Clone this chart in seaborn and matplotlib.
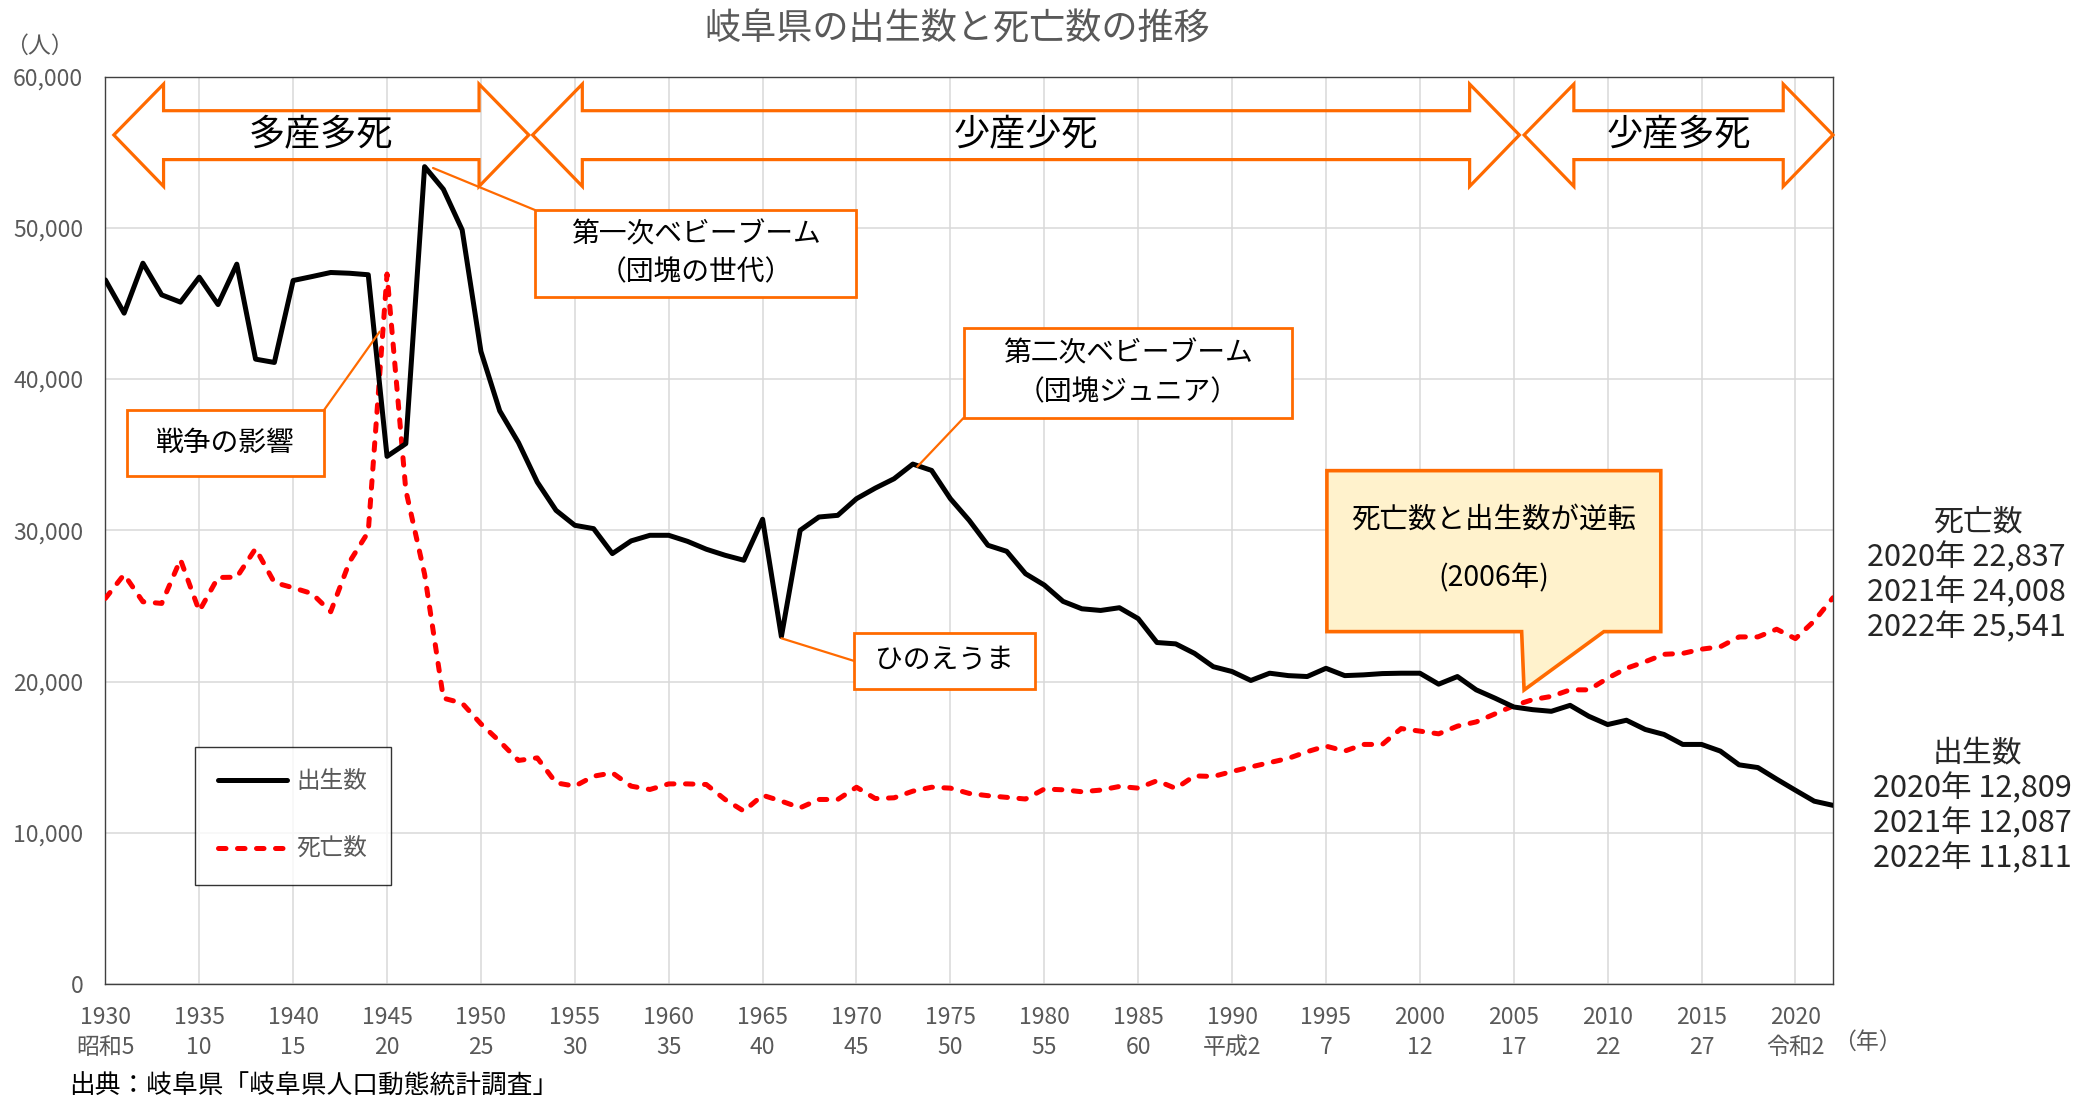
import matplotlib
matplotlib.use("Agg")
import matplotlib.pyplot as plt
from matplotlib.patches import Polygon, Rectangle
import pandas as pd
import seaborn as sns

# 岐阜県の出生数・死亡数（1930〜2022年、グラフから読み取り）
YEARS = list(range(1930, 2023))
BIRTHS = [
    46560, 44360, 47665, 45570, 45090, 46740, 44930, 47600, 41320, 41100,
    46520, 46780, 47050, 47000, 46900, 34890, 35730, 54050, 52555, 49870,
    41830, 37900, 35800, 33190, 31320, 30330, 30110, 28460, 29300, 29670,
    29670, 29270, 28750, 28350, 28020, 30730, 22970, 30000, 30880, 30990,
    32090, 32790, 33410, 34380, 33960, 32090, 30660, 29010, 28610, 27130,
    26380, 25300, 24810, 24700, 24880, 24160, 22580, 22490, 21860, 20980,
    20660, 20070, 20550, 20390, 20330, 20875, 20390, 20440, 20525, 20550,
    20550, 19825, 20330, 19450, 18900, 18315, 18140, 18030, 18425, 17700,
    17155, 17440, 16830, 16500, 15840, 15840, 15400, 14490, 14310, 13545,
    12809, 12087, 11811,
]
DEATHS = [
    25495, 27080, 25275, 25165, 28065, 24660, 26880, 26900, 28790, 26550,
    26200, 25820, 24615, 27910, 29890, 46950, 32650, 27100, 18900, 18570,
    17200, 16040, 14780, 14950, 13300, 13080, 13740, 13960, 13080, 12860,
    13230, 13230, 13190, 12200, 11430, 12480, 12090, 11650, 12200, 12200,
    13010, 12260, 12310, 12750, 13010, 12950, 12600, 12450, 12340, 12230,
    12890, 12840, 12710, 12820, 13060, 12950, 13440, 12930, 13760, 13720,
    14050, 14350, 14640, 14920, 15360, 15730, 15400, 15840, 15840, 16890,
    16720, 16540, 17050, 17330, 17860, 18400, 18800, 19015, 19450, 19450,
    20220, 20875, 21310, 21800, 21860, 22140, 22300, 22950, 22950, 23460,
    22837, 24008, 25541,
]

TICK_YEARS = list(range(1930, 2021, 5))
TICK_WAREKI = ["昭和5", "10", "15", "20", "25", "30", "35", "40", "45", "50",
               "55", "60", "平成2", "7", "12", "17", "22", "27", "令和2"]
Y_TICKS = list(range(0, 60001, 10000))

# 時代区分（ラベル, 開始年, 終了年）
PERIODS = [("多産多死", 1930.45, 1952.55),
           ("少産少死", 1952.75, 2005.3),
           ("少産多死", 2005.55, 2022.0)]

ORANGE = "#FF6A00"
GRAY = "#595959"

sns.set_theme(style="white")
plt.rcParams["font.family"] = ["Noto Sans CJK JP", "DejaVu Sans"]

fig = plt.figure(figsize=(20.82, 11.0), dpi=100)
fig.patch.set_facecolor("white")
ax = fig.add_axes([0.0506, 0.1055, 0.8298, 0.8248])

df = pd.DataFrame({"年": YEARS, "出生数": BIRTHS, "死亡数": DEATHS})
sns.lineplot(data=df, x="年", y="出生数", ax=ax, color="black", lw=3.6,
             label="出生数", zorder=4)
sns.lineplot(data=df, x="年", y="死亡数", ax=ax, color="#FF0000", lw=3.6,
             label="死亡数", zorder=3)
death_line = ax.lines[1]
death_line.set_dashes((1.5, 2.3))
death_line.set_dash_capstyle("round")

ax.set_xlim(1930, 2022)
ax.set_ylim(0, 60000)
ax.set_xticks(TICK_YEARS)
ax.set_xticklabels([f"{y}\n{w}" for y, w in zip(TICK_YEARS, TICK_WAREKI)])
ax.set_yticks(Y_TICKS)
ax.set_yticklabels([f"{v:,}" for v in Y_TICKS])
ax.set_xlabel("")
ax.set_ylabel("")
ax.grid(True, color="#D9D9D9", lw=1.1)
ax.set_axisbelow(True)
ax.tick_params(axis="both", length=0, labelsize=16.5, labelcolor=GRAY)
ax.tick_params(axis="x", pad=16)
ax.tick_params(axis="y", pad=16)
for lab in ax.get_xticklabels():
    lab.set_linespacing(1.4)
for s in ax.spines.values():
    s.set_visible(True)
    s.set_color("#404040")
    s.set_linewidth(1.0)

leg = ax.legend(loc="upper left", bbox_to_anchor=(0.0517, 0.2614),
                frameon=True, fancybox=False, edgecolor="black",
                fontsize=17, handlelength=2.9, handletextpad=0.4,
                labelspacing=1.9, borderpad=1.0, borderaxespad=0)
leg.get_frame().set_linewidth(1.0)
for t in leg.get_texts():
    t.set_color(GRAY)

# 時代区分の両矢印
y_c, y_bt, y_bb, y_ht, y_hb = 56144, 57750, 54516, 59510, 52745
head = 2.65
for label, x0, x1 in PERIODS:
    pts = [(x0, y_c), (x0 + head, y_ht), (x0 + head, y_bt), (x1 - head, y_bt),
           (x1 - head, y_ht), (x1, y_c), (x1 - head, y_hb), (x1 - head, y_bb),
           (x0 + head, y_bb), (x0 + head, y_hb)]
    ax.add_patch(Polygon(pts, closed=True, fill=False, edgecolor=ORANGE,
                         lw=2.3, joinstyle="miter", clip_on=False, zorder=6))
    ax.text((x0 + x1) / 2, y_c, label, ha="center", va="center",
            fontsize=26, color="black", zorder=7)


def note_box(x0, x1, y0, y1, text, anchor, corner, fs=20):
    ax.add_patch(Rectangle((x0, y0), x1 - x0, y1 - y0, facecolor="white",
                           edgecolor=ORANGE, lw=2.0, zorder=6))
    ax.text((x0 + x1) / 2, (y0 + y1) / 2, text, ha="center", va="center",
            fontsize=fs, color="black", linespacing=1.35, zorder=7)
    ax.annotate("", xy=anchor, xytext=corner,
                arrowprops=dict(arrowstyle="-", color=ORANGE, lw=1.6,
                                shrinkA=0, shrinkB=0), zorder=5)


note_box(1952.87, 1970.0, 45430, 51185, "第一次ベビーブーム\n（団塊の世代）",
         (1947.45, 53960), (1952.87, 51185))
note_box(1975.7, 1993.17, 37430, 43400, "第二次ベビーブーム\n（団塊ジュニア）",
         (1973.24, 34210), (1975.7, 37430))
note_box(1931.13, 1941.65, 33590, 37960, "戦争の影響",
         (1944.61, 43140), (1941.65, 37960))
note_box(1969.85, 1979.49, 19510, 23230, "ひのえうま",
         (1966.0, 22860), (1969.85, 21370))

# 逆転の吹き出し
callout = [(1995.05, 33945), (2012.83, 33945), (2012.83, 23300),
           (2009.8, 23300), (2005.55, 19440), (2005.42, 23300),
           (1995.05, 23300)]
ax.add_patch(Polygon(callout, closed=True, facecolor="#FFF2CC",
                     edgecolor=ORANGE, lw=2.6, joinstyle="miter", zorder=6))
ax.text(2003.93, 30680, "死亡数と出生数が逆転", ha="center", va="center",
        fontsize=20.5, color="black", zorder=7)
ax.text(2003.93, 26850, "(2006年)", ha="center", va="center",
        fontsize=20.5, color="black", zorder=7)

# 右側の直近値
fig.text(0.950, 0.5257, "死亡数", ha="center", va="center", fontsize=21.5)
for i, (yr, v) in enumerate(zip(YEARS[-3:], DEATHS[-3:])):
    fig.text(0.9445, 0.4930 - i * 0.0318, f"{yr}年 {v:,}", ha="center",
             va="center", fontsize=22)
fig.text(0.950, 0.3155, "出生数", ha="center", va="center", fontsize=21.5)
for i, (yr, v) in enumerate(zip(YEARS[-3:], BIRTHS[-3:])):
    fig.text(0.9472, 0.2836 - i * 0.0318, f"{yr}年 {v:,}", ha="center",
             va="center", fontsize=22)

fig.text(0.460, 0.973, "岐阜県の出生数と死亡数の推移", ha="center", va="center",
         fontsize=26, color=GRAY)
fig.text(0.0187, 0.958, "（人）", ha="center", va="center", fontsize=16.5,
         color=GRAY)
fig.text(0.897, 0.0527, "（年）", ha="center", va="center", fontsize=16.5,
         color=GRAY)
fig.text(0.0331, 0.0118, "出典：岐阜県「岐阜県人口動態統計調査」", ha="left",
         va="center", fontsize=18.5, color="black")

fig.savefig("out.png", dpi=100, facecolor="white")
